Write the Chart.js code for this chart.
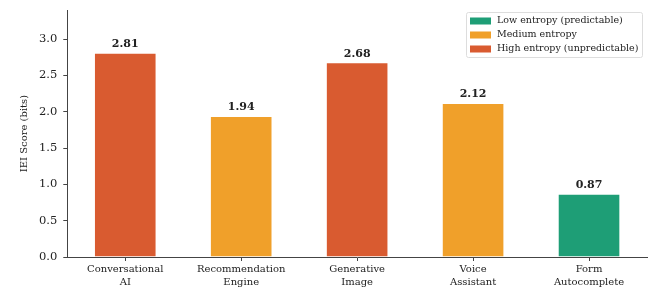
<!DOCTYPE html>
<html>
<head>
<meta charset="utf-8">
<script src="https://cdn.jsdelivr.net/npm/chart.js@4"></script>
<style>
  html, body { margin: 0; padding: 0; background: #fff; }
  #wrap { width: 660px; height: 291px; position: relative; }
</style>
</head>
<body>
<div id="wrap"><canvas id="iei"></canvas></div>
<script>
// --- Data ---
const categories = [['Conversational', 'AI'], ['Recommendation', 'Engine'], ['Generative', 'Image'], ['Voice', 'Assistant'], ['Form', 'Autocomplete']];
const scores = [2.81, 1.94, 2.68, 2.12, 0.87];
const levels = ['high', 'medium', 'high', 'medium', 'low'];

const levelColors = { low: '#1e9e76', medium: '#f0a02a', high: '#d95b30' };
const legendLabels = ['Low entropy (predictable)', 'Medium entropy', 'High entropy (unpredictable)'];
const legendKeys = ['low', 'medium', 'high'];

const FONT = "'DejaVu Serif', serif";

// value labels above each bar
const valueLabels = {
    id: 'valueLabels',
    afterDatasetsDraw(chart) {
        const ctx = chart.ctx;
        const meta = chart.getDatasetMeta(0);
        ctx.save();
        ctx.font = 'bold 11px ' + FONT;
        ctx.fillStyle = '#222';
        ctx.textAlign = 'center';
        ctx.textBaseline = 'bottom';
        meta.data.forEach((bar, i) => {
            ctx.fillText(scores[i].toFixed(2), bar.x, bar.y - 3);
        });
        ctx.restore();
    }
};

// boxed legend in the upper right corner
const boxLegend = {
    id: 'boxLegend',
    afterDraw(chart) {
        const ctx = chart.ctx;
        const x0 = 466, y0 = 12, w = 176, h = 45;
        ctx.save();
        ctx.fillStyle = 'rgba(255,255,255,0.9)';
        ctx.strokeStyle = '#dddddd';
        ctx.lineWidth = 1;
        ctx.beginPath();
        ctx.roundRect(x0 + 0.5, y0 + 0.5, w, h, 2);
        ctx.fill();
        ctx.stroke();
        ctx.font = '9.5px ' + FONT;
        ctx.textBaseline = 'middle';
        legendKeys.forEach((k, i) => {
            const y = y0 + 9 + i * 14;
            ctx.fillStyle = levelColors[k];
            ctx.fillRect(x0 + 4, y - 3.5, 21, 7);
            ctx.fillStyle = '#222';
            ctx.fillText(legendLabels[i], x0 + 31, y);
        });
        ctx.restore();
    }
};

new Chart(document.getElementById('iei'), {
    type: 'bar',
    data: {
        labels: categories,
        datasets: [{
            data: scores,
            backgroundColor: levels.map(l => levelColors[l]),
            borderColor: 'rgba(255,255,255,0.6)',
            borderWidth: 1,
            barPercentage: 0.54,
            categoryPercentage: 1
        }]
    },
    options: {
        responsive: true,
        maintainAspectRatio: false,
        animation: false,
        layout: { padding: { top: 10, right: 13, left: 14, bottom: 0 } },
        plugins: {
            legend: { display: false },
            tooltip: { enabled: false }
        },
        scales: {
            x: {
                offset: true,
                grid: { display: true, drawOnChartArea: false, drawTicks: true, tickLength: 4, color: '#444', offset: false },
                border: { color: '#444', width: 1 },
                ticks: { color: '#222', font: { family: FONT, size: 10, lineHeight: 1.3 }, maxRotation: 0, padding: 2 }
            },
            y: {
                min: 0,
                max: 3.4,
                afterBuildTicks(scale) {
                    scale.ticks = scale.ticks.filter(t => Math.abs(t.value * 2 - Math.round(t.value * 2)) < 1e-6);
                },
                afterFit(scale) {
                    scale.paddingTop = 0;
                },
                grid: { display: true, drawOnChartArea: false, drawTicks: true, tickLength: 4, color: '#444' },
                border: { color: '#444', width: 1 },
                ticks: { stepSize: 0.5, color: '#222', font: { family: FONT, size: 11.5 }, callback: v => v.toFixed(1), padding: 6 },
                title: { display: true, text: 'IEI Score (bits)', color: '#222', font: { family: FONT, size: 10 }, padding: { bottom: 3 } }
            }
        }
    },
    plugins: [valueLabels, boxLegend]
});
</script>
</body>
</html>
